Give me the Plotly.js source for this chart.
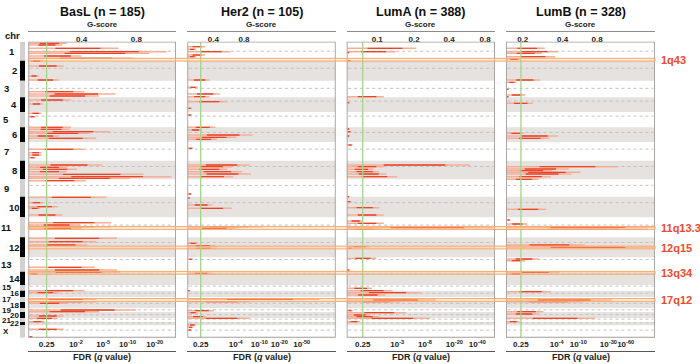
<!DOCTYPE html>
<html><head><meta charset="utf-8">
<script src="https://cdn.plot.ly/plotly-3.0.1.min.js"></script>
<style>html,body{margin:0;padding:0;background:#fff}</style>
</head><body><div id="chart" style="width:700px;height:364px"></div>
<script>
// ---------- data ----------
const chromosomes = ['1','2','3','4','5','6','7','8','9','10','11','12','13','14','15','16','17','18','19','20','21','22','X'];
// chromosome lengths in plot genome units (as drawn)
const chrSize = [190,200,166,147,153,147,187,186,174,206,200,200,144,133,57,63,50,60,40,60,40,33,124];
const centroFrac = [0.50,0.38,0.46,0.26,0.27,0.35,0.38,0.31,0.35,0.29,0.39,0.26,0.15,0.16,0.19,0.40,0.30,0.23,0.45,0.44,0.27,0.29,0.39];

const panelTitles = ['BasL (n = 185)','Her2 (n = 105)','LumA (n = 388)','LumB (n = 328)'];
// G-score tick labels (top) and their positions on each panel's axis
const gTickText = [['0.4','0.8'],['0.4','0.8'],['0.1','0.2','0.4','0.8'],['0.2','0.4','0.8']];
const gTickVals = [[0.361,0.732],[0.175,0.382],[0.206,0.454,0.690,0.933],[0.112,0.380,0.611]];
// FDR q-value tick labels (bottom)
const qTickText = [
  ['0.25','10<sup>-2</sup>','10<sup>-5</sup>','10<sup>-10</sup>','10<sup>-20</sup>'],
  ['0.25','10<sup>-4</sup>','10<sup>-10</sup>','10<sup>-20</sup>','10<sup>-50</sup>'],
  ['0.25','10<sup>-3</sup>','10<sup>-8</sup>','10<sup>-20</sup>','10<sup>-40</sup>'],
  ['0.25','10<sup>-4</sup>','10<sup>-10</sup>','10<sup>-30</sup>','10<sup>-60</sup>']];
const qTickVals = [
  [0.124,0.322,0.507,0.672,0.856],
  [0.090,0.326,0.485,0.620,0.771],
  [0.108,0.341,0.528,0.726,0.881],
  [0.100,0.340,0.485,0.687,0.803]];

// amplification segments: genome position and score (fraction of axis)
const basl_pos = [16,33,66,100,116,143,166,193,243,343,383,500,523,543,583,623,716,750,856,876,900,916,943,966,1076,1110,1133,1160,1233,1256,1276,1300,1326,1350,1366,1390,1556,1610,1650,1666,1733,1810,1833,1850,1866,1966,2000,2033,2256,2283,2306,2323,2490,2510,2576,2600,2616,2683,2700,2743,2766,2800,2876,2950];
const basl_len = [0.26,0.23,0.61,0.935,0.82,0.36,0.71,0.10,0.24,0.07,0.21,0.38,0.59,0.48,0.29,0.10,0.09,0.05,0.29,0.28,0.55,0.42,0.21,0.46,0.38,0.09,0.09,0.05,0.50,0.26,0.33,0.26,0.78,0.97,0.69,0.39,0.53,0.10,0.20,0.08,0.23,0.56,0.35,0.56,0.36,0.60,0.46,0.40,0.45,0.60,0.62,0.07,0.38,0.21,0.46,0.46,0.26,0.73,0.48,0.24,0.20,0.11,0.24,0.03];

const her2_pos = [50,76,100,133,150,383,456,523,550,600,666,733,856,883,933,956,976,1066,1233,1250,1276,1300,1323,1350,1523,1563,1633,1666,1850,1866,2016,2040,2066,2176,2316,2490,2576,2600,2690,2710,2750,2766,2833,2856,2883];
const her2_len = [0.12,0.06,0.29,0.12,0.06,0.15,0.07,0.22,0.15,0.27,0.03,0.03,0.19,0.10,0.44,0.33,0.20,0.04,0.42,0.30,0.27,0.37,0.43,0.31,0.03,0.02,0.17,0.30,0.51,0.33,0.07,0.19,0.20,0.04,0.17,0.02,0.89,0.42,0.18,0.07,0.13,0.42,0.06,0.04,0.03];

const luma_pos = [66,100,110,190,550,610,873,900,943,1033,1233,1250,1276,1300,1323,1350,1550,1600,1660,1733,1793,1816,1860,1876,2050,2066,2166,2283,2466,2490,2510,2533,2583,2600,2690,2710,2733,2750,2766,2800];
const luma_len = [0.47,0.33,0.02,0.03,0.25,0.02,0.02,0.03,0.02,0.04,0.83,0.25,0.18,0.22,0.27,0.34,0.02,0.03,0.22,0.25,0.11,0.25,0.99,0.22,0.16,0.04,0.20,0.02,0.17,0.31,0.50,0.26,0.60,0.36,0.04,0.40,0.16,0.22,0.56,0.09];

const lumb_pos = [66,100,116,150,176,383,406,476,533,550,616,916,943,966,1250,1273,1290,1306,1323,1350,1376,1676,1783,1823,1856,1876,2033,2056,2173,2190,2306,2323,2500,2583,2600,2700,2723,2766,2800];
const lumb_len = [0.26,0.35,0.24,0.33,0.10,0.23,0.07,0.02,0.13,0.02,0.18,0.12,0.35,0.29,0.75,0.42,0.31,0.50,0.44,0.30,0.22,0.27,0.03,0.14,1.00,0.95,0.53,1.00,0.22,0.13,0.36,0.12,0.30,0.71,0.52,0.25,0.22,0.60,0.09];

const peakLabels = ['1q43','11q13.3','12q15','13q34','17q12'];
const peakPos = [180,1863,2058,2311,2583];

// ---------- layout helpers ----------
const W = 700, H = 364;
const panelPx = [[28.3,176],[187.3,335.7],[346.7,495],[506,655]];
const plotTop = 41.7, plotBot = 337.7;
const FONT = 'Liberation Sans, Arial, sans-serif';
const total = chrSize.reduce((a,b)=>a+b,0);
const chrStart = []; {let s=0; chrSize.forEach(v=>{chrStart.push(s); s+=v;});}

const series = [[basl_pos,basl_len],[her2_pos,her2_len],[luma_pos,luma_len],[lumb_pos,lumb_len]];
const axId = i => i===0 ? 'x' : 'x'+(i+1);
const axKey = i => i===0 ? 'xaxis' : 'xaxis'+(i+1);

const traces = [];
const layout = {
  width: W, height: H, margin:{l:0,r:0,t:0,b:0}, showlegend:false,
  paper_bgcolor:'#fff', plot_bgcolor:'rgba(0,0,0,0)',
  font:{family:FONT, color:'#111'},
  yaxis:{domain:[(H-plotBot)/H,(H-plotTop)/H], range:[total,0], showgrid:false, zeroline:false,
         showticklabels:false, ticks:'', showline:false, fixedrange:true},
  shapes:[], annotations:[]
};

series.forEach(([pos,len],p)=>{
  const xa = axId(p);
  layout[axKey(p)] = {domain:[panelPx[p][0]/W, panelPx[p][1]/W], range:[0,1], anchor:'y',
     showgrid:false, zeroline:false, showticklabels:false, ticks:'', showline:false, fixedrange:true};
  // top G-score axis
  const gk = 'xaxis'+(p+5), qk = 'xaxis'+(p+9);
  layout[gk] = {overlaying:xa, anchor:'free', position:(H-30.7)/H, side:'bottom', range:[0,1],
     tickmode:'array', tickvals:gTickVals[p], ticktext:gTickText[p], ticks:'', ticklen:0, tickangle:0,
     showline:true, linecolor:'#8c8c8c', linewidth:1.5, showgrid:false, zeroline:false,
     tickfont:{size:8, family:FONT, weight:'bold', color:'#222'}, fixedrange:true};
  layout[qk] = {overlaying:xa, anchor:'free', position:(H-350.5)/H, side:'top', range:[0,1],
     tickmode:'array', tickvals:qTickVals[p], ticktext:qTickText[p], ticks:'', ticklen:0, tickangle:0,
     showline:true, linecolor:'#555', linewidth:1.5, showgrid:false, zeroline:false,
     tickfont:{size:8, family:FONT, weight:'bold', color:'#222'}, fixedrange:true};
  traces.push({type:'scatter', x:[0.5], y:[-500], xaxis:'x'+(p+5), yaxis:'y', mode:'markers', marker:{opacity:0}, hoverinfo:'skip'});
  traces.push({type:'scatter', x:[0.5], y:[-500], xaxis:'x'+(p+9), yaxis:'y', mode:'markers', marker:{opacity:0}, hoverinfo:'skip'});

  // background bands and centromere dotted lines
  chromosomes.forEach((c,i)=>{
    if (i%2===1) layout.shapes.push({type:'rect', xref:xa, yref:'y', x0:0, x1:1, y0:chrStart[i], y1:chrStart[i]+chrSize[i],
       fillcolor:'#e5e2e0', line:{width:0}, layer:'below'});
    const cy = chrStart[i]+centroFrac[i]*chrSize[i];
    layout.shapes.push({type:'line', xref:xa, yref:'y', x0:0.01, x1:0.99, y0:cy, y1:cy,
       line:{color:'#c2bfbd', width:1, dash:'dot'}, layer:'below'});
  });

  // segments
  const lx=[], ly=[], dx=[], dy=[];
  pos.forEach((y,i)=>{
    lx.push(0,len[i],null); ly.push(y,y,null);
    dx.push(len[i]*0.3,len[i]*0.8,null); dy.push(y,y,null);
  });
  traces.push({type:'scatter', mode:'lines', x:lx, y:ly, xaxis:xa, yaxis:'y', line:{color:'#f7ae98', width:1.4}, hoverinfo:'skip'});
  traces.push({type:'scatter', mode:'lines', x:dx, y:dy, xaxis:xa, yaxis:'y', line:{color:'#ea4326', width:1.3}, hoverinfo:'skip'});

  // q = 0.25 threshold line
  layout.shapes.push({type:'line', xref:xa, yref:'y', x0:qTickVals[p][0], x1:qTickVals[p][0], y0:0, y1:total,
     line:{color:'#a6d48c', width:1.3}, layer:'above'});
  // frame
  layout.shapes.push({type:'rect', xref:xa, yref:'y', x0:0, x1:1, y0:0, y1:total,
     line:{color:'#a39e9a', width:1.8}, layer:'above'});

  const cx = (panelPx[p][0]+panelPx[p][1])/2/W;
  layout.annotations.push({text:panelTitles[p], xref:'paper', yref:'paper', x:cx, y:(H-11.5)/H, showarrow:false,
     xanchor:'center', yanchor:'middle', font:{size:12.5, family:FONT, weight:'bold', color:'#111'}});
  layout.annotations.push({text:'G-score', xref:'paper', yref:'paper', x:cx, y:(H-24.5)/H, showarrow:false,
     xanchor:'center', yanchor:'middle', font:{size:8, family:FONT, weight:'bold', color:'#222'}});
  layout.annotations.push({text:'FDR (<i>q</i> value)', xref:'paper', yref:'paper', x:cx, y:(H-357)/H, showarrow:false,
     xanchor:'center', yanchor:'middle', font:{size:9, family:FONT, weight:'bold', color:'#222'}});
});

// chromosome ideogram bar and labels
chromosomes.forEach((c,i)=>{
  layout.shapes.push({type:'rect', xref:'paper', yref:'y', x0:20/W, x1:25/W, y0:chrStart[i], y1:chrStart[i]+chrSize[i],
     fillcolor: i%2===1 ? '#000' : '#d3d1d0', line:{width:0}});
  let lxp = (i%2===1) ? 14 : 6;
  if (i===0) lxp = 12;
  const small = i>=14;
  layout.annotations.push({text:c, xref:'paper', yref:'y', x:lxp/W, y:chrStart[i]+chrSize[i]/2, showarrow:false,
     xanchor:'center', yanchor:'middle', font:{size: small ? 8 : 9.5, family:FONT, weight:'bold', color:'#111'}});
});
layout.annotations.push({text:'chr', xref:'paper', yref:'paper', x:12/W, y:(H-35)/H, showarrow:false,
   xanchor:'center', yanchor:'middle', font:{size:9.5, family:FONT, weight:'bold', color:'#111'}});

// peak highlight bands and labels
peakPos.forEach((y,i)=>{
  layout.shapes.push({type:'rect', xref:'paper', yref:'y', x0:28.3/W, x1:655/W, y0:y-14, y1:y+14,
     fillcolor:'rgba(252,205,170,0.35)', line:{color:'#f8a865', width:1}, layer:'above'});
  layout.annotations.push({text:peakLabels[i], xref:'paper', yref:'y', x:659/W, y:y, showarrow:false,
     xanchor:'left', yanchor:'middle', font:{size:11, family:FONT, weight:'bold', color:'#ef4a2c'}});
});

Plotly.newPlot('chart', traces, layout, {staticPlot:true, displayModeBar:false});
</script></body></html>
